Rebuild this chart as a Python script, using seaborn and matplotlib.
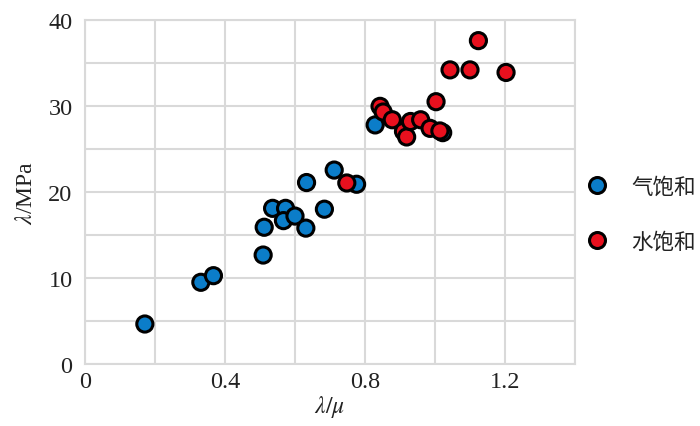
import matplotlib
matplotlib.use("Agg")
import matplotlib.pyplot as plt
import seaborn as sns
import pandas as pd
from matplotlib.ticker import MultipleLocator
from matplotlib.lines import Line2D

# Data
blue_x = [0.171, 0.331, 0.367, 0.509, 0.512, 0.536, 0.573, 0.567, 0.600, 0.631, 0.633, 0.684, 0.712, 0.776, 0.829, 1.022]
blue_y = [4.65, 9.5, 10.27, 12.67, 15.9, 18.1, 18.1, 16.67, 17.2, 15.8, 21.1, 18.0, 22.55, 20.9, 27.8, 26.9]
red_x = [0.748, 0.843, 0.852, 0.878, 0.910, 0.919, 0.930, 0.959, 0.986, 1.003, 1.014, 1.043, 1.100, 1.124, 1.203]
red_y = [21.05, 29.96, 29.3, 28.4, 27.05, 26.4, 28.2, 28.4, 27.4, 30.5, 27.1, 34.2, 34.2, 37.6, 33.9]
series_names = ["气饱和", "水饱和"]
colors = ["#0B7DC9", "#E8101E"]
x_ticks = [0, 0.4, 0.8, 1.2]
x_tick_labels = ["0", "0.4", "0.8", "1.2"]
y_ticks = [0, 10, 20, 30, 40]

df = pd.DataFrame({
    "x": blue_x + red_x,
    "y": blue_y + red_y,
    "g": [series_names[0]] * len(blue_x) + [series_names[1]] * len(red_x),
})

sns.set_theme(style="white")
plt.rcParams["font.family"] = ["Liberation Serif", "Noto Sans CJK SC", "DejaVu Sans"]
plt.rcParams["mathtext.fontset"] = "stix"

fig = plt.figure(figsize=(7, 4.27), dpi=100)
ax = fig.add_axes([85 / 700, 62 / 427, 490 / 700, 344 / 427])

sns.scatterplot(data=df, x="x", y="y", hue="g", palette=colors, hue_order=series_names,
                s=135, edgecolor="black", linewidth=2.2, ax=ax, legend=False, zorder=3)

ax.set_xlim(0, 1.4)
ax.set_ylim(0, 40)
ax.set_xticks(x_ticks)
ax.set_xticklabels(x_tick_labels)
ax.set_yticks(y_ticks)
ax.xaxis.set_minor_locator(MultipleLocator(0.2))
ax.yaxis.set_minor_locator(MultipleLocator(5))
ax.grid(True, which="both", color="#d9d9d9", linewidth=1.5, zorder=0)
ax.set_axisbelow(True)
for sp in ax.spines.values():
    sp.set_color("#d9d9d9")
    sp.set_linewidth(1.5)
ax.tick_params(which="both", length=0, labelsize=17.5, colors="#222222")
ax.tick_params(axis="y", pad=9)
ax.tick_params(axis="x", pad=5)

ax.set_xlabel(r"$\lambda/\mu$", fontsize=17, labelpad=1, color="#222222")
ax.set_ylabel(r"$\lambda$/MPa", fontsize=17, labelpad=8, color="#222222")

handles = [Line2D([], [], linestyle="none", marker="o", markersize=11.5,
                  markerfacecolor=c, markeredgecolor="black", markeredgewidth=2.2)
           for c in colors]
leg = fig.legend(handles, series_names, loc="center left",
                 bbox_to_anchor=(586 / 700, 1 - 215 / 427), frameon=False,
                 borderpad=0, borderaxespad=0,
                 labelspacing=1.55, handletextpad=1.1, handlelength=1.0,
                 prop={"family": ["Noto Sans CJK SC", "DejaVu Sans"], "size": 15.5})
for t in leg.get_texts():
    t.set_color("#222222")

fig.savefig("out.png", dpi=100)
